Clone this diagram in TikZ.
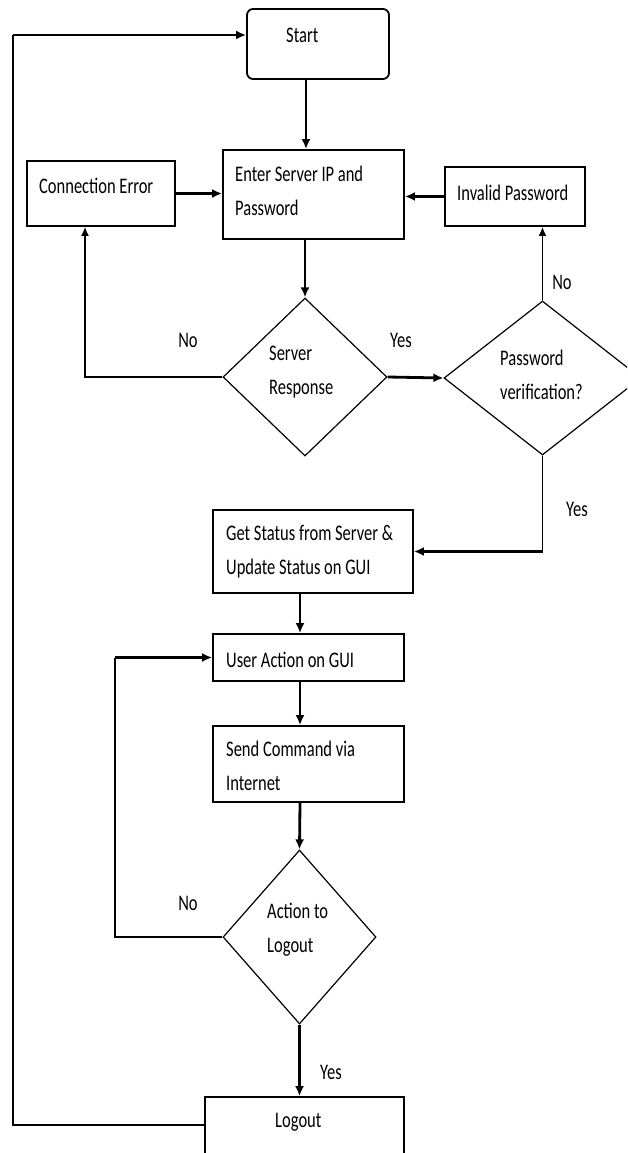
\documentclass[tikz,border=0pt]{standalone}
\usepackage{fontspec}
\setmainfont{Carlito}
\usepackage{graphicx}
\usetikzlibrary{arrows.meta,shapes.geometric}
\newcommand{\vs}[1]{\scalebox{1}[1.35]{#1}}
\begin{document}
\begin{tikzpicture}[x=1pt,y=-1pt,
  txt/.style={font=\fontsize{16.5}{34}\selectfont, inner sep=0pt, align=left, anchor=west},
  lbl/.style={font=\fontsize{16.5}{34}\selectfont, inner sep=0pt},
  box/.style={draw, line width=1.8pt, inner sep=0pt},
  dec/.style={draw, diamond, line width=1.2pt, inner sep=0pt},
  conn/.style={line width=1.5pt, -{Latex[length=9pt,width=8pt]}},
  connb/.style={line width=2.8pt, -{Latex[length=10pt,width=9pt]}}
]
\useasboundingbox (0,0) rectangle (627,1153);
\fill[white] (0,0) rectangle (627,1153);
\clip (0,0) rectangle (627,1153);

% x / y helper coordinates
\coordinate (xa) at (306,0);
\coordinate (xb) at (85,0);
\coordinate (xc) at (300,0);
\coordinate (xd) at (115,0);
\coordinate (xe) at (13,0);
\coordinate (yf) at (0,1125);
\coordinate (yg) at (0,35);

% shapes
\node[box, rounded corners=6pt, minimum width=142pt, minimum height=70pt] (start) at (318,44) {};
\node[box, minimum width=181pt, minimum height=89pt] (enter) at (313.5,194.5) {};
\node[box, minimum width=148pt, minimum height=65pt] (connerr) at (101,193.5) {};
\node[box, minimum width=140pt, minimum height=59pt] (invalid) at (515,196.5) {};
\node[dec, minimum width=164pt, minimum height=158pt] (server) at (305,377) {};
\node[dec, minimum width=197pt, minimum height=154pt] (pass) at (542.5,378) {};
\node[box, minimum width=200pt, minimum height=83pt] (getstatus) at (313,551.5) {};
\node[box, minimum width=191pt, minimum height=47pt] (useraction) at (308.5,657.5) {};
\node[box, minimum width=191pt, minimum height=76pt] (sendcmd) at (308.5,764) {};
\node[dec, minimum width=153pt, minimum height=174pt] (act) at (299.5,937) {};
\node[box, minimum width=199pt, minimum height=80pt] (logoutbox) at (304.5,1137) {};

% texts
\node[txt] (tstart) at (286,35) {\vs{Start}};
\node[txt] (tenter) at (235,190.5) {\vs{Enter Server IP and}\\\vs{Password}};
\node[txt] (tconn) at (39,186) {\vs{Connection Error}};
\node[txt] (tinv) at (457,193) {\vs{Invalid Password}};
\node[txt] (tserver) at (269,372) {\vs{Server}\\\vs{Response}};
\node[txt] (tpass) at (500,375) {\vs{Password}\\\vs{verification?}};
\node[txt] (tget) at (226,551.5) {\vs{Get Status from Server \&}\\\vs{Update Status on GUI}};
\node[txt] (tuser) at (226,660) {\vs{User Action on GUI}};
\node[txt] (tsend) at (226,765.5) {\vs{Send Command via}\\\vs{Internet}};
\node[txt] (tact) at (267,930) {\vs{Action to}\\\vs{Logout}};
\node[txt] (tlogout) at (275,1122) {\vs{Logout}};

% branch labels
\node[lbl] (no1) at (188,340) {\vs{No}};
\node[lbl] (yes1) at (401,340) {\vs{Yes}};
\node[lbl] (no2) at (562,282) {\vs{No}};
\node[lbl] (yes2) at (577,509) {\vs{Yes}};
\node[lbl] (no3) at (188,903) {\vs{No}};
\node[lbl] (yes3) at (331,1072) {\vs{Yes}};

% connectors
\draw[connb] (start.south -| xa) -- (enter.north -| xa);
\draw[connb] (server.north |- enter.south) -- (server.north);
\draw[connb] (connerr.east) -- (enter.west |- connerr.east);
\draw[connb] (invalid.west) -- (enter.east |- invalid.west);
\draw[conn] (server.west) -| (xb |- connerr.south);
\draw[connb] (server.east) -- (pass.west);
\draw[conn] (pass.north) -- (pass.north |- invalid.south);
\draw[line width=1.5pt] (pass.south) -- (pass.south |- getstatus.east);
\draw[connb] (pass.south |- getstatus.east) -- (getstatus.east);
\draw[connb] (getstatus.south -| xc) -- (useraction.north -| xc);
\draw[connb] (useraction.south -| xc) -- (sendcmd.north -| xc);
\draw[connb] (sendcmd.south -| xc) -- (act.north);
\draw[line width=1.5pt] (act.west) -| (xd |- useraction.west);
\draw[connb] (xd |- useraction.west) -- (useraction.west);
\draw[connb] (act.south) -- (act.south |- logoutbox.north);
\draw[line width=1.5pt] (logoutbox.west |- yf) -| (xe |- yg);
\draw[connb] (xe |- yg) -- (start.west |- yg);
\end{tikzpicture}
\end{document}
